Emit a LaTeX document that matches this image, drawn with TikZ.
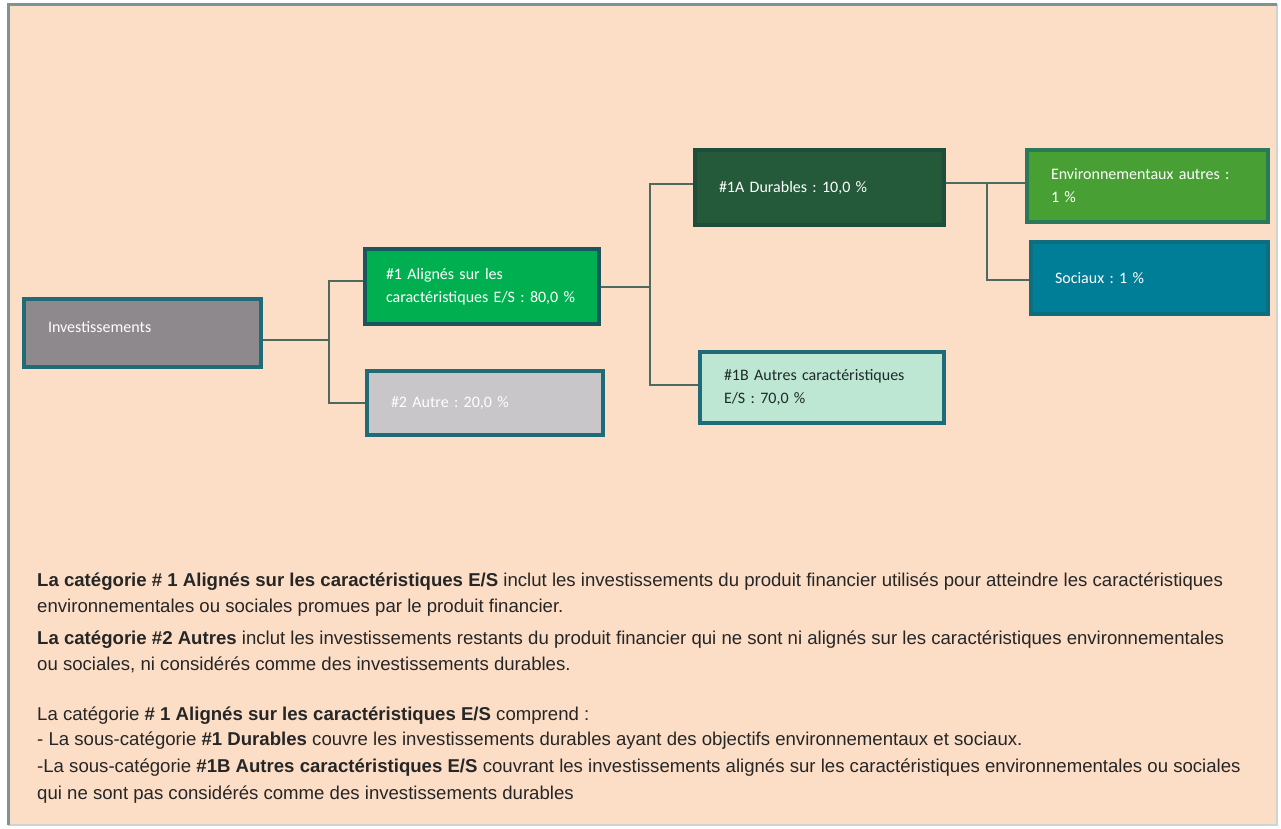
\documentclass[tikz,border=0pt]{standalone}
\usepackage{fontspec}
\setmainfont{Liberation Sans}
\newfontfamily\boxfont{Carlito}
\frenchspacing
\definecolor{peach}{HTML}{FCDEC7}
\definecolor{framec}{HTML}{7D9494}
\definecolor{framelt}{HTML}{CDD6CE}
\definecolor{invc}{HTML}{8E898D}
\definecolor{boxline}{HTML}{1F6B78}
\definecolor{a1c}{HTML}{00B050}
\definecolor{a2c}{HTML}{C8C6C8}
\definecolor{d1Ac}{HTML}{245A3A}
\definecolor{d1Aline}{HTML}{1E4D3C}
\definecolor{d1Bc}{HTML}{BDE7D3}
\definecolor{envc}{HTML}{48A035}
\definecolor{envline}{HTML}{2A7A5A}
\definecolor{socc}{HTML}{007E98}
\definecolor{socline}{HTML}{0F6D80}
\definecolor{connc}{HTML}{4D6A5C}
\definecolor{txt}{HTML}{262626}
\definecolor{darktxt}{HTML}{1F2A2A}
\begin{document}
\begin{tikzpicture}[x=1pt,y=-1pt,
  box/.style={draw=boxline, line width=3.5pt, rectangle, align=left, inner xsep=24pt, inner ysep=0pt,
    font=\boxfont\frenchspacing\fontsize{16}{23}\selectfont, text=white},
  conn/.style={draw=connc, line width=2pt},
  para/.style={anchor=base west, inner sep=0pt, font=\frenchspacing\fontsize{18.6}{22}\selectfont, text=txt}]
\useasboundingbox (0,0) rectangle (1281,828);
\fill[white] (0,0) rectangle (1281,828);
\fill[peach] (8,4) rectangle (1277,825);
\draw[framelt, line width=2pt] (8,825) -- (1277,825) -- (1277,4);
\draw[framec, line width=3pt] (8,825) -- (8,4) -- (1277,4);

% boxes
\node[box, fill=invc, minimum width=237pt, minimum height=68pt, text width=189pt] (inv) at (142.5,333) {\raisebox{12pt}{Investissements}};
\node[box, fill=a1c, draw=boxline!80!black, inner xsep=21pt, minimum width=234pt, minimum height=75pt, text width=192pt] (a1) at (482,286.5) {\#1 Alignés sur les\\caractéristiques E/S : 80,0 \%};
\node[box, fill=a2c, minimum width=236pt, minimum height=64pt, text width=188pt] (a2) at (485,403) {\#2 Autre : 20,0 \%};
\node[box, fill=d1Ac, draw=d1Aline, minimum width=249pt, minimum height=75pt, text width=201pt] (d1A) at (819.5,187.5) {\#1A Durables : 10,0 \%};
\node[box, fill=d1Bc, text=darktxt, minimum width=244pt, minimum height=71pt, text width=196pt] (d1B) at (822,387.5) {\#1B Autres caractéristiques\\E/S : 70,0 \%};
\node[box, fill=envc, draw=envline, minimum width=241pt, minimum height=72pt, text width=193pt] (env) at (1147.5,186) {Environnementaux autres :\\1 \%};
\node[box, fill=socc, draw=socline, minimum width=237pt, minimum height=72pt, text width=189pt] (soc) at (1149.5,278) {Sociaux : 1 \%};

% connectors
\coordinate (j1) at (329,340);
\coordinate (j2) at (650,287);
\coordinate (j3) at (987,183);
\draw[conn] (inv.east |- j1) -- (j1);
\draw[conn] (a1.west |- 0,281) -| (j1) |- (a2.west |- 0,403);
\draw[conn] (a1.east |- j2) -- (j2);
\draw[conn] (d1A.west |- 0,184) -| (j2) |- (d1B.west |- 0,385);
\draw[conn] (d1A.east |- j3) -- (env.west |- j3);
\draw[conn] (j3) |- (soc.west |- 0,280);

% text
\node[para] (p1) at (37,586) {\textbf{La catégorie \# 1 Alignés sur les caractéristiques E/S} inclut les investissements du produit financier utilisés pour atteindre les caractéristiques};
\node[para] (p2) at (37,612) {environnementales ou sociales promues par le produit financier.};
\node[para] (p3) at (37,644) {\textbf{La catégorie \#2 Autres} inclut les investissements restants du produit financier qui ne sont ni alignés sur les caractéristiques environnementales};
\node[para] (p4) at (37,670) {ou sociales, ni considérés comme des investissements durables.};
\node[para] (p5) at (37,720) {La catégorie \textbf{\# 1 Alignés sur les caractéristiques E/S} comprend :};
\node[para] (p6) at (37,745) {- La sous-catégorie \textbf{\#1 Durables} couvre les investissements durables ayant des objectifs environnementaux et sociaux.};
\node[para] (p7) at (37,772) {-La sous-catégorie \textbf{\#1B Autres caractéristiques E/S} couvrant les investissements alignés sur les caractéristiques environnementales ou sociales};
\node[para] (p8) at (37,799) {qui ne sont pas considérés comme des investissements durables};
\end{tikzpicture}
\end{document}
